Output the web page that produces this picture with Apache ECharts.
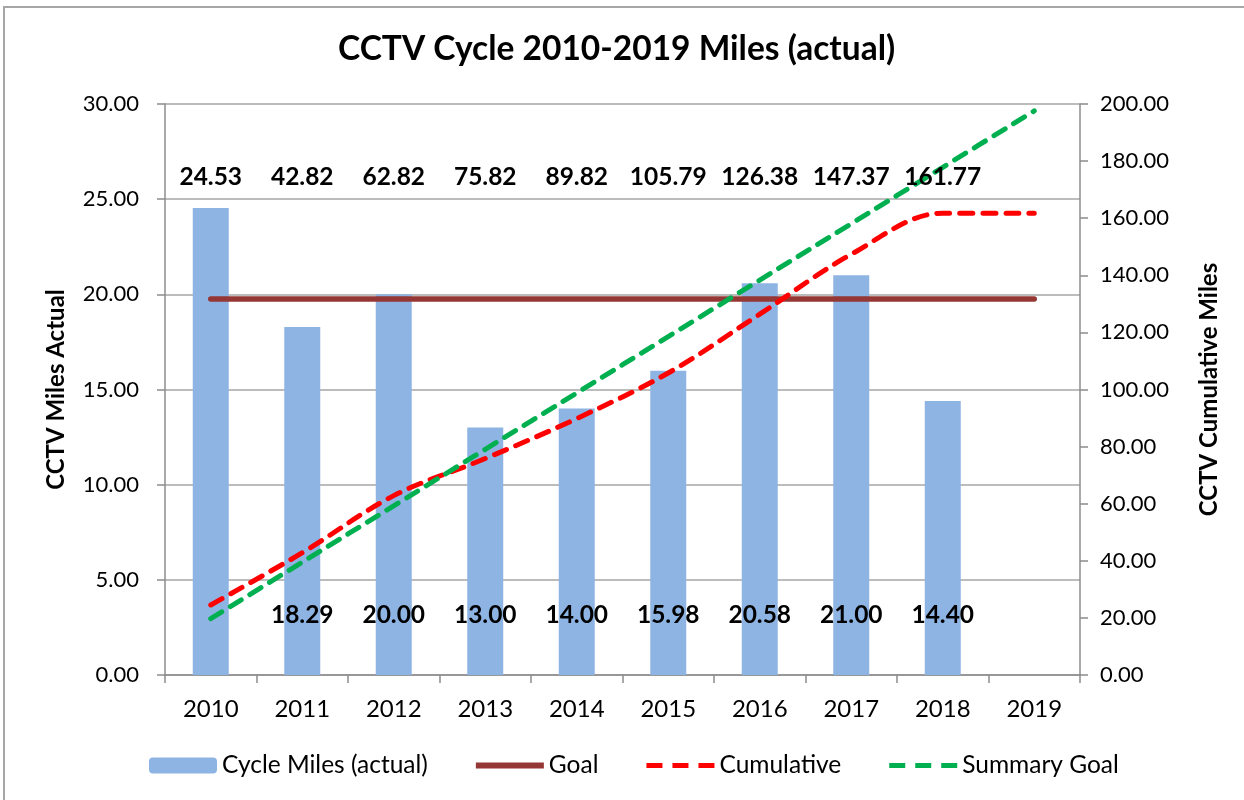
<!DOCTYPE html>
<html>
<head>
<meta charset="utf-8">
<title>CCTV Cycle 2010-2019 Miles</title>
<script src="https://cdn.jsdelivr.net/npm/echarts@6/dist/echarts.min.js"></script>
<style>
  html, body { margin: 0; padding: 0; background: #fff; }
  #main { width: 1244px; height: 800px; }
</style>
</head>
<body>
<div id="main"></div>
<script>
// values
var years = ['2010', '2011', '2012', '2013', '2014', '2015', '2016', '2017', '2018', '2019'];
var cycleMiles = [24.53, 18.29, 20.00, 13.00, 14.00, 15.98, 20.58, 21.00, 14.40, null];
var goal = [19.76, 19.76, 19.76, 19.76, 19.76, 19.76, 19.76, 19.76, 19.76, 19.76];
var cumulative = [24.53, 42.82, 62.82, 75.82, 89.82, 105.79, 126.38, 147.37, 161.77, 161.77];
var summaryGoal = [19.76, 39.52, 59.28, 79.04, 98.80, 118.56, 138.32, 158.08, 177.84, 197.60];
// which labels the original shows
var cumulativeLabels = [24.53, 42.82, 62.82, 75.82, 89.82, 105.79, 126.38, 147.37, 161.77, null];
var cycleLabels = [null, 18.29, 20.00, 13.00, 14.00, 15.98, 20.58, 21.00, 14.40, null];

var font = 'Lato, "Noto Sans", sans-serif';
var myChart = echarts.init(document.getElementById('main'));

// legend glyphs: the leading moves pin the box to 68x16 so the bars stay thin
var solidIcon = 'path://M0,0M68,16M0,5h68v6h-68z';
var dashIcon = 'path://M0,0M68,16M0,5.5h16v5h-16zM26,5.5h16v5h-16zM52,5.5h16v5h-16z';

// text row at a fixed height inside the plot, one entry per category
function labelRow(values, fromTop) {
  var data = [];
  values.forEach(function (v, i) {
    if (v !== null) data.push([i, v]);
  });
  return {
    type: 'custom',
    yAxisIndex: 0,
    silent: true,
    z: 10,
    data: data,
    renderItem: function (params, api) {
      var cs = params.coordSys;
      var x = api.coord([api.value(0), 0])[0];
      var y = fromTop >= 0 ? cs.y + fromTop : cs.y + cs.height + fromTop;
      return {
        type: 'text',
        x: x,
        y: y,
        style: {
          text: api.value(1).toFixed(2),
          fill: '#000',
          fontSize: 24.5,
          fontWeight: 'bold',
          fontFamily: font,
          align: 'center',
          verticalAlign: 'middle'
        }
      };
    }
  };
}

var dashed = function (color) {
  return { color: color, width: 5, type: [13, 10], cap: 'round' };
};

myChart.setOption({
  animation: false,
  textStyle: { fontFamily: font },
  title: {
    text: 'CCTV Cycle 2010-2019 Miles (actual)',
    left: 333,
    top: 27,
    textStyle: { fontSize: 33.5, fontWeight: 'bold', color: '#000', fontFamily: font }
  },
  graphic: [{
    type: 'rect',
    shape: { x: 4, y: 7, width: 1260, height: 820 },
    style: { fill: 'none', stroke: '#a6a6a6', lineWidth: 2 },
    silent: true
  }],
  legend: {
    data: [
      { name: 'Cycle Miles (actual)' },
      { name: 'Goal', icon: solidIcon },
      { name: 'Cumulative', icon: dashIcon },
      { name: 'Summary Goal', icon: dashIcon }
    ],
    bottom: 17,
    left: 144,
    itemWidth: 68,
    itemHeight: 16,
    itemGap: 48,
    textStyle: { fontSize: 24.5, color: '#000', fontFamily: font }
  },
  grid: { left: 165, right: 164, top: 104, bottom: 125 },
  xAxis: {
    type: 'category',
    data: years,
    axisLine: { lineStyle: { color: '#8c8c8c', width: 1.5 } },
    axisTick: { show: true, length: 8, lineStyle: { color: '#8c8c8c', width: 1.5 } },
    axisLabel: { color: '#000', fontSize: 24, margin: 22, fontFamily: font }
  },
  yAxis: [{
    type: 'value',
    min: 0,
    max: 30,
    interval: 5,
    name: 'CCTV Miles Actual',
    nameLocation: 'middle',
    nameGap: 97,
    nameTextStyle: { fontSize: 24, fontWeight: 'bold', color: '#000', fontFamily: font },
    axisLine: { show: true, lineStyle: { color: '#8c8c8c', width: 1.5 } },
    axisTick: { show: true, length: 8, lineStyle: { color: '#8c8c8c', width: 1.5 } },
    axisLabel: {
      color: '#000', fontSize: 22, margin: 26, fontFamily: font,
      formatter: function (v) { return v.toFixed(2); }
    },
    splitLine: { lineStyle: { color: '#a6a6a6', width: 1.5 } }
  }, {
    type: 'value',
    min: 0,
    max: 200,
    interval: 20,
    name: 'CCTV Cumulative Miles',
    nameLocation: 'middle',
    nameGap: 117,
    nameRotate: 90,
    nameTextStyle: { fontSize: 24, fontWeight: 'bold', color: '#000', fontFamily: font },
    axisLine: { show: true, lineStyle: { color: '#8c8c8c', width: 1.5 } },
    axisTick: { show: true, length: 8, lineStyle: { color: '#8c8c8c', width: 1.5 } },
    axisLabel: {
      color: '#000', fontSize: 22, margin: 20, fontFamily: font,
      formatter: function (v) { return v.toFixed(2); }
    },
    splitLine: { show: false }
  }],
  series: [
    {
      name: 'Cycle Miles (actual)',
      type: 'bar',
      yAxisIndex: 0,
      barWidth: 36,
      itemStyle: { color: '#8eb4e3' },
      data: cycleMiles
    },
    {
      name: 'Goal',
      type: 'line',
      yAxisIndex: 0,
      symbol: 'none',
      lineStyle: { color: '#953735', width: 5.5, cap: 'round' },
      itemStyle: { color: '#953735' },
      data: goal
    },
    {
      name: 'Cumulative',
      type: 'line',
      yAxisIndex: 1,
      symbol: 'none',
      smooth: 0.35,
      lineStyle: dashed('#ff0000'),
      itemStyle: { color: '#ff0000' },
      data: cumulative
    },
    {
      name: 'Summary Goal',
      type: 'line',
      yAxisIndex: 1,
      symbol: 'none',
      smooth: 0.35,
      lineStyle: dashed('#00b050'),
      itemStyle: { color: '#00b050' },
      data: summaryGoal
    },
    labelRow(cumulativeLabels, 73),
    labelRow(cycleLabels, -60)
  ]
});
</script>
</body>
</html>
